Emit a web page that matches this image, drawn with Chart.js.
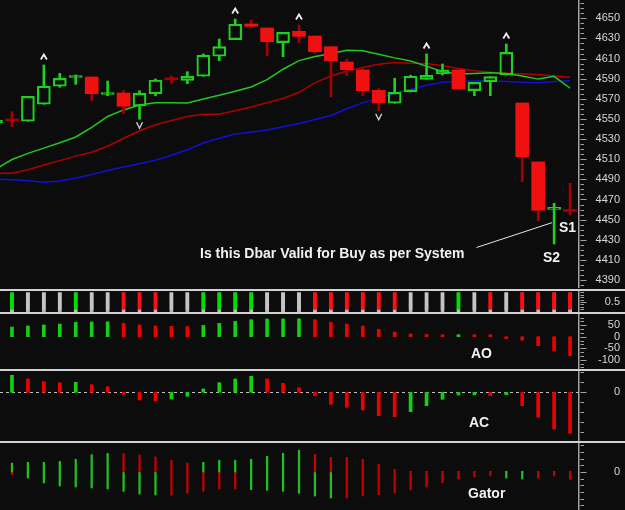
<!DOCTYPE html>
<html>
<head>
<meta charset="utf-8">
<script src="https://cdn.jsdelivr.net/npm/chart.js@4.4.1/dist/chart.umd.min.js"></script>
<style>
  html, body { margin: 0; padding: 0; background: #0c0c0c; }
  #wrap { position: relative; width: 625px; height: 510px; overflow: hidden; background: #0c0c0c; }
  .pane { position: absolute; left: 0; }
  .sep { position: absolute; left: 0; width: 625px; height: 2px; background: #d2d2d2; }
  .note { position: absolute; color: #f2f2f2; font: bold 14px "Liberation Sans", Arial, sans-serif; line-height: 14px; white-space: nowrap; }
</style>
</head>
<body>
<div id="wrap">
  <canvas id="priceChart" class="pane" width="625" height="288" style="top:0px"></canvas>
  <div class="sep" style="top:289px"></div>
  <canvas id="zoneChart" class="pane" width="625" height="21" style="top:291px"></canvas>
  <div class="sep" style="top:312px"></div>
  <canvas id="aoChart" class="pane" width="625" height="55" style="top:314px"></canvas>
  <div class="sep" style="top:369px"></div>
  <canvas id="acChart" class="pane" width="625" height="70" style="top:371px"></canvas>
  <div class="sep" style="top:441px"></div>
  <canvas id="gatorChart" class="pane" width="625" height="67" style="top:443px"></canvas>

  <div class="note" style="left:200px; top:246px">Is this Dbar Valid for Buy as per System</div>
  <div class="note" style="left:559px; top:220px">S1</div>
  <div class="note" style="left:543px; top:250px">S2</div>
  <div class="note" style="left:471px; top:346px">AO</div>
  <div class="note" style="left:469px; top:415px">AC</div>
  <div class="note" style="left:468px; top:486px">Gator</div>
</div>

<script>
// price bars, first one (-1) is cut by the left edge
const opens  = [4546, 4548.5, 4547.7, 4564.6, 4582.5, 4591.2, 4591.7, 4574.3, 4575.8, 4562.9, 4575.1, 4589.4, 4588.4, 4592.4, 4612.3, 4628.8, 4644.4, 4640.4, 4625.8, 4637.1, 4632.4, 4621.8, 4606.6, 4598.7, 4578.5, 4565.6, 4577.1, 4589.4, 4594.7, 4598.7, 4578.1, 4587, 4593.7, 4565.9, 4507.3, 4460.2, 4458.9];
const highs  = [4549.5, 4557.2, 4572.5, 4603.6, 4595.4, 4593.7, 4591.7, 4587.7, 4578.1, 4578.1, 4589.7, 4592.7, 4597, 4614.6, 4629.5, 4649.3, 4648.3, 4640.4, 4636.1, 4643.4, 4632.4, 4621.8, 4609.3, 4601.3, 4580.1, 4590.4, 4593.5, 4614.6, 4604.6, 4598.7, 4586.4, 4592, 4624.5, 4565.9, 4507.3, 4466.2, 4486.1];
const lows   = [4545.5, 4542.4, 4547.7, 4564.6, 4581.5, 4584.4, 4568.5, 4573.1, 4555.6, 4549.7, 4573.1, 4585.4, 4585, 4592.4, 4607.9, 4628.8, 4641.1, 4612.6, 4611.9, 4625.8, 4615.2, 4572.1, 4593, 4573.1, 4558.2, 4565.6, 4576.8, 4589.4, 4593.7, 4579.8, 4573.1, 4573.1, 4593.7, 4487.7, 4448.9, 4425.8, 4454.6];
const closes = [4549, 4548, 4572.5, 4582.5, 4590.4, 4591.8, 4575.1, 4574.9, 4562.6, 4575.5, 4588.7, 4588.9, 4592.4, 4613.3, 4621.8, 4644.1, 4642.1, 4626.8, 4636.1, 4632.1, 4616.8, 4607.9, 4599, 4578.1, 4566.2, 4576.5, 4592.4, 4593.4, 4598.7, 4579.8, 4586.4, 4592, 4616.2, 4512.5, 4459.3, 4460.9, 4458.2];

// alligator
const lips  = [4500.3, 4509.7, 4515.8, 4521, 4526.3, 4532.1, 4541.7, 4552.5, 4559, 4563.8, 4566.2, 4566.2, 4565.8, 4569.8, 4573.5, 4577.6, 4581.8, 4589, 4599.4, 4608, 4612.1, 4614.8, 4618.2, 4617.8, 4614.4, 4610.7, 4607.6, 4602.5, 4596.9, 4594.7, 4595.2, 4595.8, 4595.1, 4592.8, 4589.6, 4592.4, 4580.5];
const teeth = [4496, 4496, 4499.6, 4504.2, 4508.6, 4513.1, 4517, 4522.9, 4530.8, 4538.3, 4544.3, 4548.5, 4552.4, 4554.6, 4554.6, 4558.1, 4561.9, 4566.1, 4570.4, 4576.5, 4585.9, 4592.7, 4597.7, 4601.1, 4604.3, 4606.1, 4605.3, 4605, 4603, 4600.1, 4598, 4596.4, 4595.3, 4594.9, 4594.3, 4592.8, 4591.4];
const jaw   = [4490.1, 4489.7, 4488.6, 4487.1, 4488.4, 4491.3, 4494.7, 4498.7, 4502.3, 4505.5, 4509.1, 4514, 4519.4, 4526.1, 4530.9, 4535, 4536.9, 4539.1, 4542.3, 4545.5, 4549.4, 4553.4, 4560.1, 4566, 4570.7, 4575.5, 4579.2, 4583.5, 4586.5, 4587.5, 4587.8, 4587.7, 4587.3, 4586.6, 4585.9, 4587.2, 4588];

// fractal bars
const fractalUp = [2, 14, 18, 26, 31];
const fractalDown = [8, 23];

// indicators, bars 0..35
const ao = [42, 46.5, 51, 55, 62, 64, 64.5, 58, 51, 46.5, 45, 44, 49, 58, 66.5, 74, 77, 77.5, 78, 74, 62, 55, 46.5, 32, 20, 12, 10, 8, 9, 7, 3, -1, -15, -39, -62, -83];
const ac = [34, 26.6, 21.2, 19.2, 20, 15.2, 11.2, -4, -15.4, -16.8, -13.4, -8, 6.6, 19.2, 26.6, 32, 26.6, 18, 9.2, -6.8, -24, -30, -35.4, -46.8, -48.8, -38.8, -26.8, -14, -5.4, -5, -6.8, -4.8, -26.8, -50, -73.4, -82];
const gatorUp   = [9, 9.7, 9.7, 10.7, 12.7, 17.3, 18.7, 18.5, 17, 15, 11.7, 9, 9.7, 11.7, 11.7, 12.7, 15.7, 18.7, 21.7, 17.7, 14.7, 14.7, 12.7, 7.7, 2.7, 0.7, 0.7, 0.7, 0.7, 0.7, 0.7, 0.7, 0.7, 0.7, 0.7, 0.7];
const gatorDown = [-2.7, -6, -11, -14, -15, -16, -17, -19.3, -22, -23, -23, -21, -19.3, -17, -17, -17.7, -18.3, -19.3, -21.3, -24, -26, -26, -24, -22.7, -21, -18, -15, -10.7, -7, -5, -4, -6, -7, -6, -4, -7.3];
const gatorUpCol   = 'gggggggrrrrrgggggggrrrrrrrrrrrrggrrr'.split('');
const gatorDownCol = 'rgggggggggrrrrrggggggrrrrrrrrrrggrrr'.split('');

// tick labels
const priceTickLabels = [4390, 4410, 4430, 4450, 4470, 4490, 4510, 4530, 4550, 4570, 4590, 4610, 4630, 4650];
const zoneTickLabels = [0.5];
const aoTickLabels = [50, 0, -50, -100];
const acTickLabels = [0];
const gatorTickLabels = [0];

const GREEN = '#1fd01f', RED = '#f01010', DARKRED = '#a80000', GREY = '#c4c4c4';
const AXIS_W = 41, RIGHT_PAD = 5, X_MIN = -0.75, X_MAX = 35.56;
const FONT = '"Liberation Sans", Arial, sans-serif';

const priceBarNo = opens.map((_, i) => i - 1);
const barNo = ao.map((_, i) => i);

function range(from, to, step) {
    const out = [];
    for (let k = 0; from + k * step <= to + 1e-9; k++) out.push(from + k * step);
    return out;
}

function yAxis(min, max, tickVals, labels) {
    return {
        position: 'right', min: min, max: max,
        grid: { display: false, drawTicks: false },
        border: { display: true, color: '#a3a3a3', width: 1.5 },
        afterBuildTicks: s => { s.ticks = tickVals.map(v => ({ value: v })); },
        afterFit: s => { s.width = AXIS_W; s.paddingTop = 0; s.paddingBottom = 0; },
        ticks: {
            autoSkip: false, padding: 8, crossAlign: 'far', color: '#d6d6d6',
            font: { family: FONT, size: 11 },
            callback: v => {
                const l = labels.find(l => Math.abs(l - v) < 1e-6);
                return l === undefined ? '' : String(l);
            }
        }
    };
}

function baseOptions(yScale) {
    return {
        responsive: false, animation: false, events: [],
        layout: { padding: { left: 0, top: 0, bottom: 0, right: RIGHT_PAD } },
        plugins: { legend: { display: false }, tooltip: { enabled: false } },
        scales: {
            x: { type: 'linear', min: X_MIN, max: X_MAX, offset: false, display: false },
            y: yScale
        }
    };
}

// small tick marks on the right axis
const tickMarks = {
    id: 'tickMarks',
    afterDraw(chart) {
        const s = chart.scales.y, ctx = chart.ctx;
        ctx.save();
        ctx.strokeStyle = '#a3a3a3';
        ctx.lineWidth = 1;
        s.ticks.forEach(t => {
            const y = Math.round(s.getPixelForValue(t.value)) + 0.5;
            const len = t.label ? 6 : 3.5;
            ctx.beginPath();
            ctx.moveTo(s.left + 1.5, y);
            ctx.lineTo(s.left + 1.5 + len, y);
            ctx.stroke();
        });
        ctx.restore();
    }
};

// fractal arrows and callout line
const priceMarks = {
    id: 'priceMarks',
    afterDatasetsDraw(chart) {
        const xs = chart.scales.x, ys = chart.scales.y, ctx = chart.ctx;
        ctx.save();
        ctx.strokeStyle = '#f0f0f0';
        ctx.lineWidth = 1.8;
        fractalUp.forEach(b => {
            const px = xs.getPixelForValue(b), py = ys.getPixelForValue(highs[b + 1]) - 8;
            ctx.beginPath();
            ctx.moveTo(px - 3, py + 2.5); ctx.lineTo(px, py - 2.5); ctx.lineTo(px + 3, py + 2.5);
            ctx.stroke();
        });
        ctx.strokeStyle = '#cfcfcf';
        ctx.lineWidth = 1.4;
        fractalDown.forEach(b => {
            const px = xs.getPixelForValue(b), py = ys.getPixelForValue(lows[b + 1]) + 6;
            ctx.beginPath();
            ctx.moveTo(px - 3, py - 3); ctx.lineTo(px, py + 3); ctx.lineTo(px + 3, py - 3);
            ctx.stroke();
        });
        // callout to the D-bar
        ctx.strokeStyle = '#e6e6e6';
        ctx.lineWidth = 1;
        ctx.beginPath();
        ctx.moveTo(476.5, 247.5);
        ctx.lineTo(xs.getPixelForValue(34) - 2, ys.getPixelForValue(4447));
        ctx.stroke();
        ctx.restore();
    }
};

const zeroDash = {
    id: 'zeroDash',
    beforeDatasetsDraw(chart) {
        const a = chart.chartArea, y = Math.round(chart.scales.y.getPixelForValue(0)) + 0.5, ctx = chart.ctx;
        ctx.save();
        ctx.strokeStyle = '#bdbdbd';
        ctx.lineWidth = 1;
        ctx.setLineDash([3, 3]);
        ctx.beginPath();
        ctx.moveTo(a.left, y);
        ctx.lineTo(a.right, y);
        ctx.stroke();
        ctx.restore();
    }
};

// ---- main price panel ----
const isUp = opens.map((o, i) => closes[i] >= o);
// red bars with almost no body look dark in the reference
const bodyRed = opens.map((o, i) => Math.abs(closes[i] - o) < 1 ? DARKRED : RED);
const lineDs = (data, color) => ({
    type: 'line', order: 3,
    data: priceBarNo.map((x, i) => ({ x: x, y: data[i] })),
    borderColor: color, borderWidth: 1.5, pointRadius: 0, tension: 0
});

new Chart(document.getElementById('priceChart'), {
    type: 'bar',
    data: {
        datasets: [
            {
                order: 0, grouped: false, barThickness: 13, minBarLength: 2,
                data: priceBarNo.map((x, i) => ({ x: x, y: [opens[i], closes[i]] })),
                backgroundColor: isUp.map((u, i) => u ? 'rgba(0,0,0,0)' : bodyRed[i]),
                borderColor: isUp.map(u => u ? GREEN : RED),
                borderWidth: isUp.map(u => u ? 1.5 : 0),
                borderSkipped: false
            },
            {
                order: 1, grouped: false, barThickness: 2,
                data: priceBarNo.map((x, i) => ({ x: x, y: [Math.max(opens[i], closes[i]), highs[i]] })),
                backgroundColor: isUp.map(u => u ? GREEN : DARKRED)
            },
            {
                order: 1, grouped: false, barThickness: 2,
                data: priceBarNo.map((x, i) => ({ x: x, y: [lows[i], Math.min(opens[i], closes[i])] })),
                backgroundColor: isUp.map(u => u ? GREEN : DARKRED)
            },
            lineDs(lips, '#22c822'),
            lineDs(teeth, '#b00000'),
            lineDs(jaw, '#1010d8')
        ]
    },
    options: baseOptions(yAxis(4382.06, 4668.2, range(4385, 4665, 5), priceTickLabels)),
    plugins: [tickMarks, priceMarks]
});

// ---- zone bars ----
const rising = arr => arr.map((v, i) => i === 0 ? true : v > arr[i - 1]);
const aoUp = rising(ao), acUp = rising(ac);
const zoneCol = ao.map((_, i) => aoUp[i] && acUp[i] ? '#00e000' : (!aoUp[i] && !acUp[i] ? '#ff1010' : GREY));

new Chart(document.getElementById('zoneChart'), {
    type: 'bar',
    data: {
        datasets: [{
            grouped: false, barThickness: 4,
            data: barNo.map(x => ({ x: x, y: 1 })),
            backgroundColor: zoneCol,
            borderColor: '#b8b8b8',
            borderWidth: { top: 0, left: 0, right: 0, bottom: 2.4 },
            borderSkipped: false
        }]
    },
    options: baseOptions(yAxis(-0.015, 1.067, range(0, 1, 0.125), zoneTickLabels)),
    plugins: [tickMarks]
});

// ---- AO ----
new Chart(document.getElementById('aoChart'), {
    type: 'bar',
    data: {
        datasets: [{
            grouped: false, barThickness: 3, minBarLength: 2,
            data: barNo.map((x, i) => ({ x: x, y: ao[i] })),
            backgroundColor: aoUp.map(u => u ? '#12d012' : '#ec0000')
        }]
    },
    options: baseOptions(yAxis(-140.4, 98.7, range(-400 / 3, 250 / 3, 50 / 3), aoTickLabels)),
    plugins: [tickMarks]
});

// ---- AC ----
new Chart(document.getElementById('acChart'), {
    type: 'bar',
    data: {
        datasets: [{
            grouped: false, barThickness: 3, minBarLength: 2,
            data: barNo.map((x, i) => ({ x: x, y: ac[i] })),
            backgroundColor: acUp.map(u => u ? '#12d012' : '#ec0000')
        }]
    },
    options: baseOptions(yAxis(-97.4, 42.6, range(-80, 40, 20), acTickLabels)),
    plugins: [tickMarks, zeroDash]
});

// ---- Gator ----
const gCol = c => c === 'g' ? '#20c020' : '#c40000';
new Chart(document.getElementById('gatorChart'), {
    type: 'bar',
    data: {
        datasets: [
            {
                grouped: false, barThickness: 1.6,
                data: barNo.map((x, i) => ({ x: x, y: gatorUp[i] })),
                backgroundColor: gatorUpCol.map(gCol)
            },
            {
                grouped: false, barThickness: 1.6,
                data: barNo.map((x, i) => ({ x: x, y: gatorDown[i] })),
                backgroundColor: gatorDownCol.map(gCol)
            }
        ]
    },
    options: baseOptions(yAxis(-38, 29, range(-100 / 3, 80 / 3, 20 / 3), gatorTickLabels)),
    plugins: [tickMarks]
});
</script>
</body>
</html>
